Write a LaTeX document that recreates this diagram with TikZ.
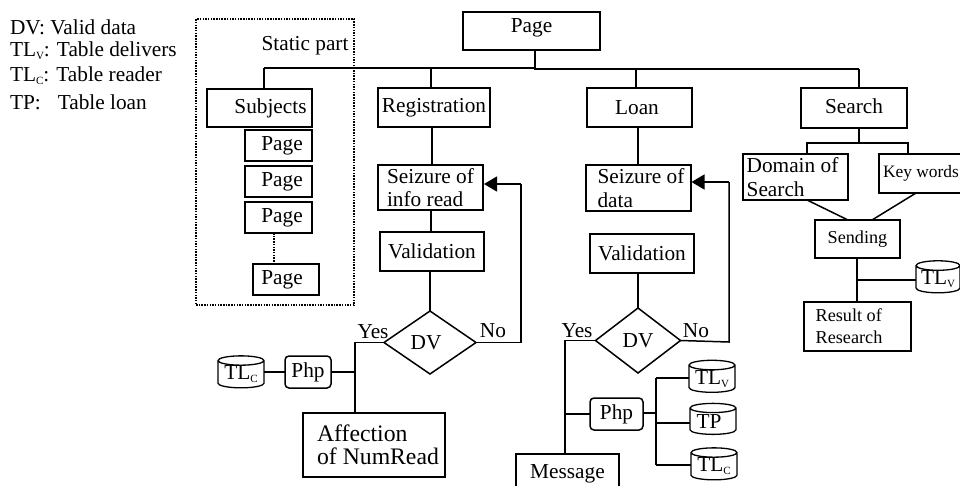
\documentclass[tikz,border=0pt]{standalone}
\usepackage{fontspec}
\setmainfont{Liberation Serif}
\usetikzlibrary{shapes.geometric,arrows.meta}
\newcommand{\lowsub}[1]{\raisebox{-3pt}{\fontsize{11}{11}\selectfont #1}}
\tikzset{
  every node/.style={font=\fontsize{21.3}{23.5}\selectfont},
  box/.style={draw,line width=1.5pt,inner sep=0pt,outer sep=0pt,align=left},
  php/.style={box,rounded corners=4pt,minimum width=48pt,minimum height=32pt},
  db/.style={draw,line width=1.3pt,cylinder,shape border rotate=90,aspect=0.28,inner sep=0pt,outer sep=0pt,minimum width=46pt,minimum height=32pt},
  dv/.style={draw,line width=1.5pt,diamond,inner sep=0pt,outer sep=0pt,minimum width=92pt,minimum height=63pt},
  wire/.style={line width=1.5pt},
  back/.style={line width=1.5pt,-{Triangle[length=13pt,width=15pt]}},
  dots/.style={line width=1.6pt,dash pattern=on 1.5pt off 1.2pt},
  plain/.style={inner sep=0pt,outer sep=0pt},
  legend/.style={plain,anchor=west},
  smalltext/.style={font=\fontsize{18.2}{22}\selectfont}
}
\begin{document}
\begin{tikzpicture}[x=1pt,y=-1pt]
\useasboundingbox (0,0) rectangle (960,485);
\clip (0,0) rectangle (960,485);
% legend
\node[legend] (l1) at (10,27) {DV: Valid data};
\node[legend] (l2) at (10,51) {TL\lowsub{V}: Table delivers};
\node[legend] (l3) at (10,76) {TL\lowsub{C}: Table reader};
\node[legend] (l4) at (10,102) {TP:\kern 17pt Table loan};
% static part
\node[draw,dots,plain,minimum width=158pt,minimum height=286pt] (static) at (275,162) {};
\node[plain] (statictext) at (305,46) {Static part};
% top
\node[box,minimum width=137pt,minimum height=38pt] (top) at (531.5,31) {\raisebox{10pt}{Page}};
\coordinate (jl) at (264,68);
\coordinate (jm) at (535,68);
\coordinate (jr) at (859,69);
% static column
\node[box,minimum width=105pt,minimum height=38pt] (subjects) at (259.5,108) {\kern 22pt Subjects};
\node[box,minimum width=67pt,minimum height=31pt] (p1) at (278.5,145.5) {\kern 7pt\raisebox{-3pt}{Page}};
\node[box,minimum width=67pt,minimum height=31pt] (p2) at (278.5,181.5) {\kern 7pt\raisebox{-3pt}{Page}};
\node[box,minimum width=67pt,minimum height=31pt] (p3) at (278.5,217.5) {\kern 7pt Page};
\node[box,minimum width=66pt,minimum height=31pt] (p4) at (286,279.5) {Page\kern 8pt};
% registration column
\node[box,minimum width=112pt,minimum height=39pt] (reg) at (434,107.5) {\raisebox{4pt}{Registration}};
\node[box,minimum width=105pt,minimum height=45pt] (seize1) at (430.5,187.5) {Seizure of\\info read};
\node[box,minimum width=104pt,minimum height=39pt] (val1) at (432,251.5) {Validation};
\node[dv] (dv1) at (430,342.5) {DV\kern 8pt};
\node[box,minimum width=142pt,minimum height=64pt,font=\fontsize{23.7}{23.5}\selectfont] (aff) at (374,445) {\kern 8pt Affection\\\kern 8pt of NumRead};
\node[php,minimum width=46pt] (php1) at (308,372) {Php};
\node[db] (tlc1) at (241,374.5) {TL\lowsub{C}};
\node[plain] (yes1) at (373,332) {Yes};
\node[plain] (no1) at (493,331) {No};
\coordinate (j1) at (355,342.5);
\coordinate (j1b) at (521,342.5);
\coordinate (j1t) at (521,184);
% loan column
\node[box,minimum width=105pt,minimum height=39pt] (loan) at (639.5,107.5) {Loan\kern 5pt};
\node[box,minimum width=105pt,minimum height=46pt] (seize2) at (638.5,188) {\kern 5pt Seizure of\\\kern 5pt data};
\node[box,minimum width=104pt,minimum height=39pt] (val2) at (642,253.5) {\raisebox{-3pt}{Validation}};
\node[dv,minimum width=85pt,minimum height=65pt] (dv2) at (638,340.5) {DV};
\node[plain] (yes2) at (577,331) {Yes};
\node[plain] (no2) at (696,331) {No};
\coordinate (j2) at (565,340.5);
\coordinate (j2b) at (729,342);
\coordinate (j2t) at (729,182);
\node[box,minimum width=103pt,minimum height=40pt] (msg) at (567.5,474) {Message};
\node[php,minimum width=53pt] (php2) at (616.5,414) {Php};
\coordinate (j3) at (565,414);
\coordinate (j4) at (656,413);
\coordinate (j4t) at (656,378);
\coordinate (j4m) at (656,423);
\coordinate (j4b) at (656,465);
\node[db] (tlv1) at (712,379) {TL\lowsub{V}};
\node[db,minimum height=31pt] (tp) at (713,421.5) {TP\kern 8pt};
\node[db] (tlc2) at (714,466.5) {TL\lowsub{C}};
% search column
\node[box,minimum width=106pt,minimum height=40pt] (search) at (854,108) {\raisebox{4pt}{Search}};
\coordinate (js) at (859,143);
\coordinate (jsl) at (807,143);
\coordinate (jsr) at (908,143);
\node[box,minimum width=105pt,minimum height=46pt] (domain) at (795.5,177) {Domain of\kern 6pt\\Search};
\node[box,minimum width=85pt,minimum height=39pt,font=\fontsize{17.4}{20}\selectfont] (key) at (921.5,173.5) {\raisebox{4pt}{Key words}\kern 1pt};
\node[box,minimum width=85pt,minimum height=38pt,smalltext] (send) at (857.5,239) {Sending};
\node[db,minimum width=44pt] (tlv2) at (938,279.5) {TL\lowsub{V}};
\coordinate (jsend) at (857,280);
\node[box,minimum width=107pt,minimum height=49pt,smalltext] (result) at (857.5,326.5) {Result of\\Research\kern 17pt};
% connectors
\draw[wire] (jl) -- (jm) -- (jm |- top.south);
\draw[wire] (jm) -- (535,69) -- (jr);
\draw[wire] (jl) -- (jl |- subjects.north);
\draw[wire] (431,68) -- (431,88);
\draw[wire] (636,69) -- (636,88);
\draw[wire] (jr) -- (jr |- search.north);
\draw[dots] (274,233) -- (274,264);
\draw[wire] (432,127) -- (432,165);
\draw[wire] (431,210) -- (431,232);
\draw[wire] (dv1.north |- val1.south) -- (dv1.north);
\draw[wire] (dv1.west) -- (j1) -- (355,413);
\draw[wire] (dv1.east) -- (j1b) -- (j1t);
\draw[back] (j1t) -- (484,184);
\draw[wire] (tlc1.east |- php1.west) -- (php1.west);
\draw[wire] (php1.east) -- (355,372);
\draw[wire] (638,127) -- (638,165);
\draw[wire] (dv2.north |- val2.south) -- (dv2.north);
\draw[wire] (dv2.west) -- (j2) -- (565,454);
\draw[wire] (dv2.east) -- (j2b) -- (j2t);
\draw[back] (j2t) -- (691.5,182);
\draw[wire] (j3) -- (php2.west);
\draw[wire] (php2.east |- j4) -- (j4);
\draw[wire] (j4t) -- (j4b);
\draw[wire] (j4t) -- (tlv1.west |- j4t);
\draw[wire] (j4m) -- (tp.west |- j4m);
\draw[wire] (j4b) -- (tlc2.west |- j4b);
\draw[wire] (js |- search.south) -- (js);
\draw[wire] (jsl |- domain.north) -- (jsl) -- (jsr) -- (jsr |- key.north);
\draw[wire] (807,200) -- (848,220);
\draw[wire] (916,193) -- (872,220);
\draw[wire] (jsend |- send.south) -- (jsend |- result.north);
\draw[wire] (jsend) -- (tlv2.west |- jsend);
\end{tikzpicture}
\end{document}
